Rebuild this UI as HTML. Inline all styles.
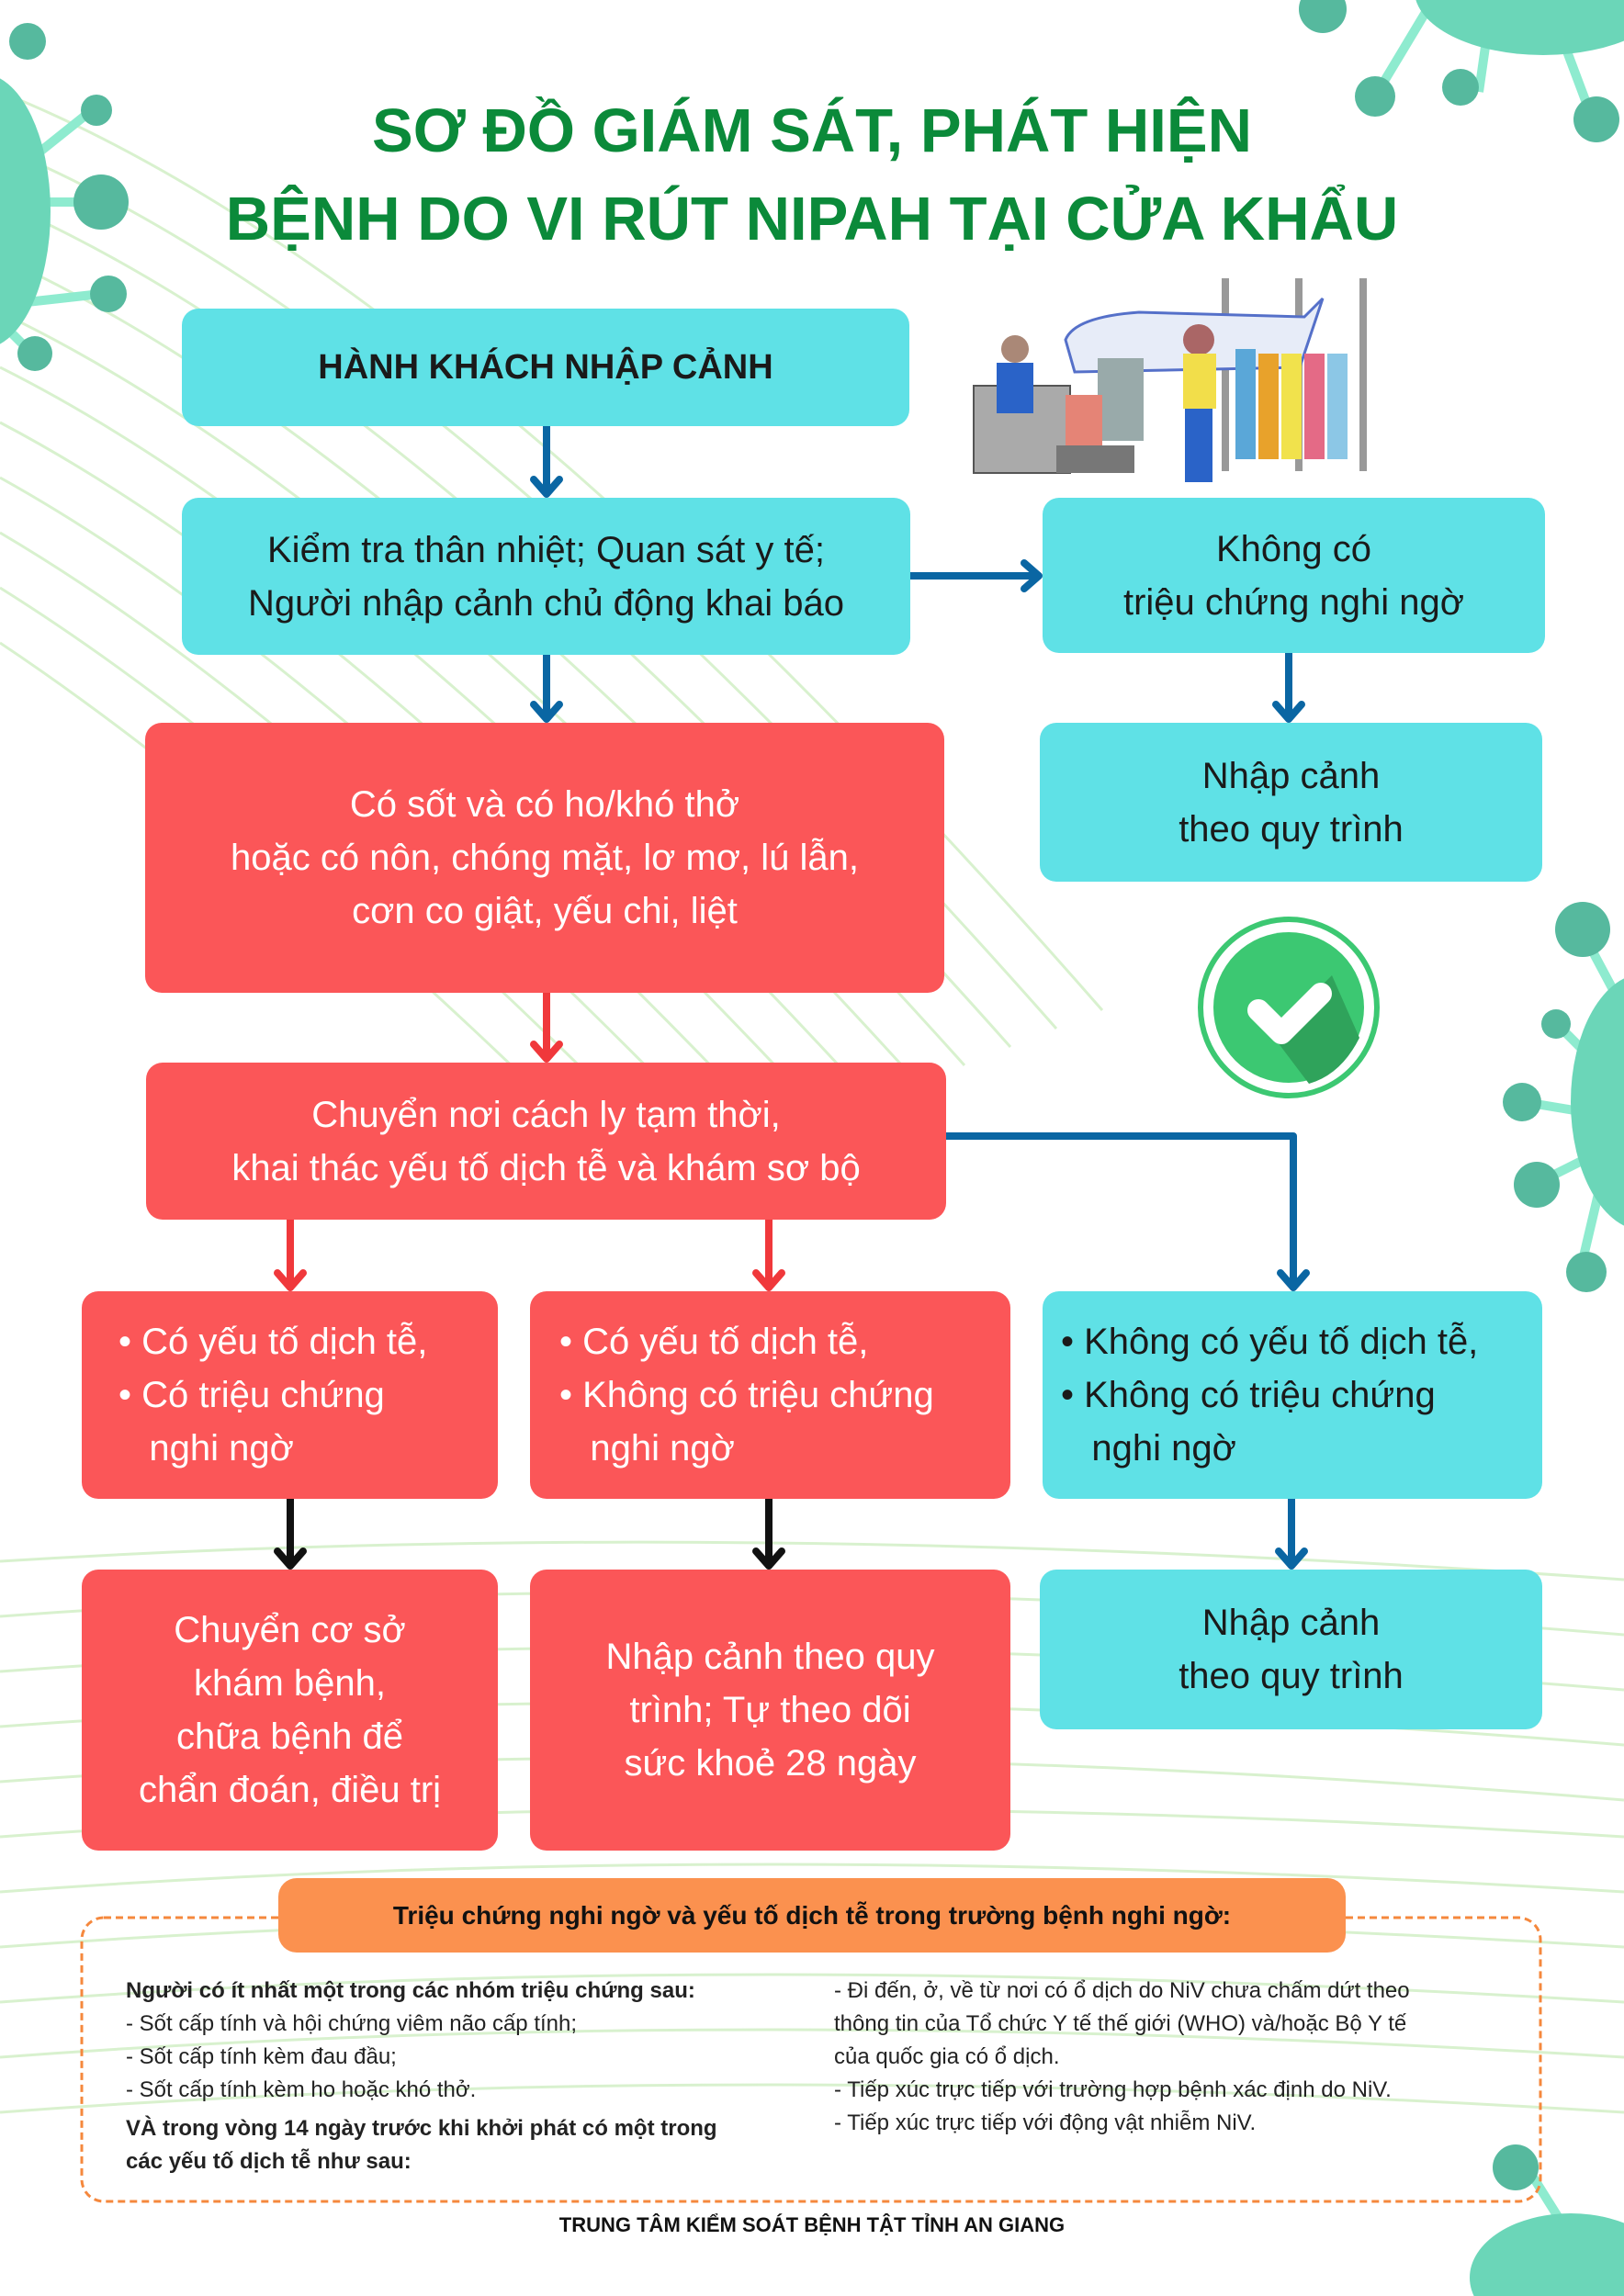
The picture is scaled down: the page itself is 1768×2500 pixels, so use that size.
<!DOCTYPE html>
<html><head><meta charset="utf-8">
<style>
html,body{margin:0;padding:0}
body{width:1768px;height:2500px;position:relative;overflow:hidden;background:#fff;font-family:"Liberation Sans","DejaVu Sans",sans-serif}
.b{position:absolute;border-radius:18px;display:flex;align-items:center;justify-content:center;text-align:center;font-size:40px;line-height:58px;box-sizing:border-box}
.c{background:#5fe1e6;color:#1a1a1a}
.r{background:#fb5658;color:#fff}
.l{justify-content:flex-start;text-align:left;padding-left:36px}
.t{position:absolute;left:0;width:1768px;text-align:center;color:#0b8a3a;font-weight:bold;font-size:67px}
.bt{position:absolute;font-size:24px;line-height:36px;color:#222}
</style></head><body>
<svg width="1768" height="2500" style="position:absolute;left:0;top:0">
<g stroke="#cfeec2" stroke-width="3" fill="none" opacity="0.8">
<path d="M0 100 Q500 300 1200 1100"/><path d="M0 160 Q480 360 1150 1120"/><path d="M0 220 Q460 420 1100 1140"/><path d="M0 280 Q440 480 1050 1160"/><path d="M0 340 Q420 540 1000 1180"/><path d="M0 400 Q400 600 950 1200"/><path d="M0 460 Q380 660 900 1220"/><path d="M0 520 Q360 720 850 1240"/><path d="M0 580 Q340 780 800 1260"/><path d="M0 640 Q320 840 750 1280"/><path d="M0 700 Q300 900 700 1300"/>
<path d="M0 1700 Q800 1650 1768 1720"/><path d="M0 1760 Q800 1700 1768 1780"/><path d="M0 1820 Q800 1760 1768 1840"/><path d="M0 1880 Q800 1820 1768 1900"/><path d="M0 1940 Q800 1880 1768 1960"/><path d="M0 2000 Q800 1940 1768 2000"/><path d="M0 2060 Q800 2000 1768 2060"/><path d="M0 2120 Q800 2060 1768 2120"/><path d="M0 2180 Q800 2120 1768 2180"/><path d="M0 2240 Q800 2180 1768 2240"/><path d="M0 2300 Q800 2240 1768 2300"/>
</g>
<g fill="#56b99e" stroke="#8eebcf" stroke-width="10">
<line x1="0" y1="200" x2="100" y2="120"/><line x1="30" y1="220" x2="110" y2="220"/><line x1="20" y1="330" x2="110" y2="320"/><line x1="10" y1="360" x2="30" y2="380"/>
<line x1="1560" y1="0" x2="1500" y2="100"/><line x1="1620" y1="30" x2="1610" y2="100"/><line x1="1700" y1="40" x2="1730" y2="120"/>
<line x1="1768" y1="1100" x2="1720" y2="1010"/><line x1="1730" y1="1150" x2="1695" y2="1115"/><line x1="1720" y1="1210" x2="1660" y2="1200"/><line x1="1730" y1="1260" x2="1670" y2="1290"/><line x1="1740" y1="1300" x2="1720" y2="1385"/>
<line x1="1700" y1="2420" x2="1650" y2="2340"/>
</g>
<g fill="#6bd6b8"><ellipse cx="-20" cy="230" rx="75" ry="150"/><ellipse cx="1680" cy="-10" rx="140" ry="70"/><ellipse cx="1790" cy="1200" rx="80" ry="140"/><ellipse cx="1710" cy="2480" rx="110" ry="70"/></g>
<g fill="#56b99e"><circle cx="30" cy="45" r="20"/><circle cx="105" cy="120" r="17"/><circle cx="110" cy="220" r="30"/><circle cx="118" cy="320" r="20"/><circle cx="38" cy="385" r="19"/>
<circle cx="1440" cy="10" r="26"/><circle cx="1497" cy="105" r="22"/><circle cx="1590" cy="95" r="20"/><circle cx="1738" cy="130" r="25"/>
<circle cx="1723" cy="1012" r="30"/><circle cx="1694" cy="1115" r="16"/><circle cx="1657" cy="1200" r="21"/><circle cx="1673" cy="1290" r="25"/><circle cx="1727" cy="1385" r="22"/>
<circle cx="1650" cy="2360" r="25"/></g>
<g>
<rect x="1330" y="303" width="8" height="210" fill="#999"/><rect x="1410" y="303" width="8" height="210" fill="#999"/><rect x="1480" y="303" width="8" height="210" fill="#999"/>
<path d="M1160 370 Q1170 345 1240 340 L1420 345 L1440 325 L1415 400 L1170 405 Z" fill="#e7ecf8" stroke="#5570c9" stroke-width="3"/>
<rect x="1195" y="390" width="50" height="90" fill="#9aa"/><rect x="1060" y="420" width="105" height="95" fill="#aaa" stroke="#555" stroke-width="2"/>
<rect x="1150" y="485" width="85" height="30" fill="#777"/><rect x="1160" y="430" width="40" height="55" fill="#e58476"/>
<circle cx="1105" cy="380" r="15" fill="#a87"/><rect x="1085" y="395" width="40" height="55" fill="#2a63c8"/>
<circle cx="1305" cy="370" r="17" fill="#a66"/><rect x="1288" y="385" width="36" height="60" fill="#f2de4a"/><rect x="1290" y="445" width="30" height="80" fill="#2a63c8"/>
<rect x="1345" y="380" width="22" height="120" fill="#5aa7d8"/><rect x="1370" y="385" width="22" height="115" fill="#e8a22b"/><rect x="1395" y="385" width="22" height="115" fill="#f1e24c"/><rect x="1420" y="385" width="22" height="115" fill="#e46a86"/><rect x="1445" y="385" width="22" height="115" fill="#8cc7e6"/>
</g>
<circle cx="1403" cy="1097" r="96" fill="none" stroke="#3cc872" stroke-width="6"/>
<circle cx="1403" cy="1097" r="82" fill="#3cc872"/>
<path d="M1385 1127 L1450 1062 L1480 1130 Q1460 1170 1425 1180 Z" fill="#2fa35b"/>
<path d="M1370 1100 L1395 1125 L1438 1082" stroke="#fff" stroke-width="24" fill="none" stroke-linecap="round" stroke-linejoin="round"/>
<g stroke-width="8" fill="none" stroke-linejoin="round" stroke-linecap="round">
<g stroke="#0a66a3">
<path d="M595 464 V538 M581 522 L595 538 L609 522"/>
<path d="M595 713 V783 M581 767 L595 783 L609 767"/>
<path d="M991 627 H1131 M1115 613 L1131 627 L1115 641"/>
<path d="M1403 711 V783 M1389 767 L1403 783 L1417 767"/>
<path d="M1030 1237 H1408 V1402 M1394 1386 L1408 1402 L1422 1386"/>
<path d="M1406 1632 V1705 M1392 1689 L1406 1705 L1420 1689"/>
</g>
<g stroke="#f0383b">
<path d="M595 1081 V1153 M581 1137 L595 1153 L609 1137"/>
<path d="M316 1328 V1402 M302 1386 L316 1402 L330 1386"/>
<path d="M837 1328 V1402 M823 1386 L837 1402 L851 1386"/>
</g>
<g stroke="#111">
<path d="M316 1632 V1705 M302 1689 L316 1705 L330 1689"/>
<path d="M837 1632 V1705 M823 1689 L837 1705 L851 1689"/>
</g>
</g>
<rect x="89" y="2088" width="1588" height="309" rx="24" fill="none" stroke="#f5883d" stroke-width="3" stroke-dasharray="8 5"/>
</svg>

<div class="t" style="top:104px">SƠ ĐỒ GIÁM SÁT, PHÁT HIỆN</div>
<div class="t" style="top:200px">BỆNH DO VI RÚT NIPAH TẠI CỬA KHẨU</div>

<div class="b c" style="left:198px;top:336px;width:792px;height:128px;font-weight:bold;font-size:38px">HÀNH KHÁCH NHẬP CẢNH</div>
<div class="b c" style="left:198px;top:542px;width:793px;height:171px">Kiểm tra thân nhiệt; Quan sát y tế;<br>Người nhập cảnh chủ động khai báo</div>
<div class="b c" style="left:1135px;top:542px;width:547px;height:169px">Không có<br>triệu chứng nghi ngờ</div>
<div class="b c" style="left:1132px;top:787px;width:547px;height:173px">Nhập cảnh<br>theo quy trình</div>
<div class="b r" style="left:158px;top:787px;width:870px;height:294px">Có sốt và có ho/khó thở<br>hoặc có nôn, chóng mặt, lơ mơ, lú lẫn,<br>cơn co giật, yếu chi, liệt</div>
<div class="b r" style="left:159px;top:1157px;width:871px;height:171px">Chuyển nơi cách ly tạm thời,<br>khai thác yếu tố dịch tễ và khám sơ bộ</div>

<div class="b r l" style="left:89px;top:1406px;width:453px;height:226px;padding-left:40px">•&nbsp;Có yếu tố dịch tễ,<br>•&nbsp;Có triệu chứng<br>&nbsp;&nbsp;&nbsp;nghi ngờ</div>
<div class="b r l" style="left:577px;top:1406px;width:523px;height:226px;padding-left:32px">•&nbsp;Có yếu tố dịch tễ,<br>•&nbsp;Không có triệu chứng<br>&nbsp;&nbsp;&nbsp;nghi ngờ</div>
<div class="b c l" style="left:1135px;top:1406px;width:544px;height:226px;padding-left:20px">•&nbsp;Không có yếu tố dịch tễ,<br>•&nbsp;Không có triệu chứng<br>&nbsp;&nbsp;&nbsp;nghi ngờ</div>

<div class="b r" style="left:89px;top:1709px;width:453px;height:306px">Chuyển cơ sở<br>khám bệnh,<br>chữa bệnh để<br>chẩn đoán, điều trị</div>
<div class="b r" style="left:577px;top:1709px;width:523px;height:306px">Nhập cảnh theo quy<br>trình; Tự theo dõi<br>sức khoẻ 28 ngày</div>
<div class="b c" style="left:1132px;top:1709px;width:547px;height:174px">Nhập cảnh<br>theo quy trình</div>

<div class="b" style="left:303px;top:2045px;width:1162px;height:81px;background:#fb914f;color:#111;font-weight:bold;font-size:28px;border-radius:20px">Triệu chứng nghi ngờ và yếu tố dịch tễ trong trường bệnh nghi ngờ:</div>

<div class="bt" style="left:137px;top:2150px;width:760px"><b>Người có ít nhất một trong các nhóm triệu chứng sau:</b><br>- Sốt cấp tính và hội chứng viêm não cấp tính;<br>- Sốt cấp tính kèm đau đầu;<br>- Sốt cấp tính kèm ho hoặc khó thở.<br><div style="margin-top:6px"><b>VÀ trong vòng 14 ngày trước khi khởi phát có một trong<br>các yếu tố dịch tễ như sau:</b></div></div>
<div class="bt" style="left:908px;top:2150px;width:740px">- Đi đến, ở, về từ nơi có ổ dịch do NiV chưa chấm dứt theo<br>thông tin của Tổ chức Y tế thế giới (WHO) và/hoặc Bộ Y tế<br>của quốc gia có ổ dịch.<br>- Tiếp xúc trực tiếp với trường hợp bệnh xác định do NiV.<br>- Tiếp xúc trực tiếp với động vật nhiễm NiV.</div>

<div style="position:absolute;left:0;width:1768px;top:2410px;text-align:center;font-weight:bold;font-size:22px;color:#111">TRUNG TÂM KIỂM SOÁT BỆNH TẬT TỈNH AN GIANG</div>
</body></html>
